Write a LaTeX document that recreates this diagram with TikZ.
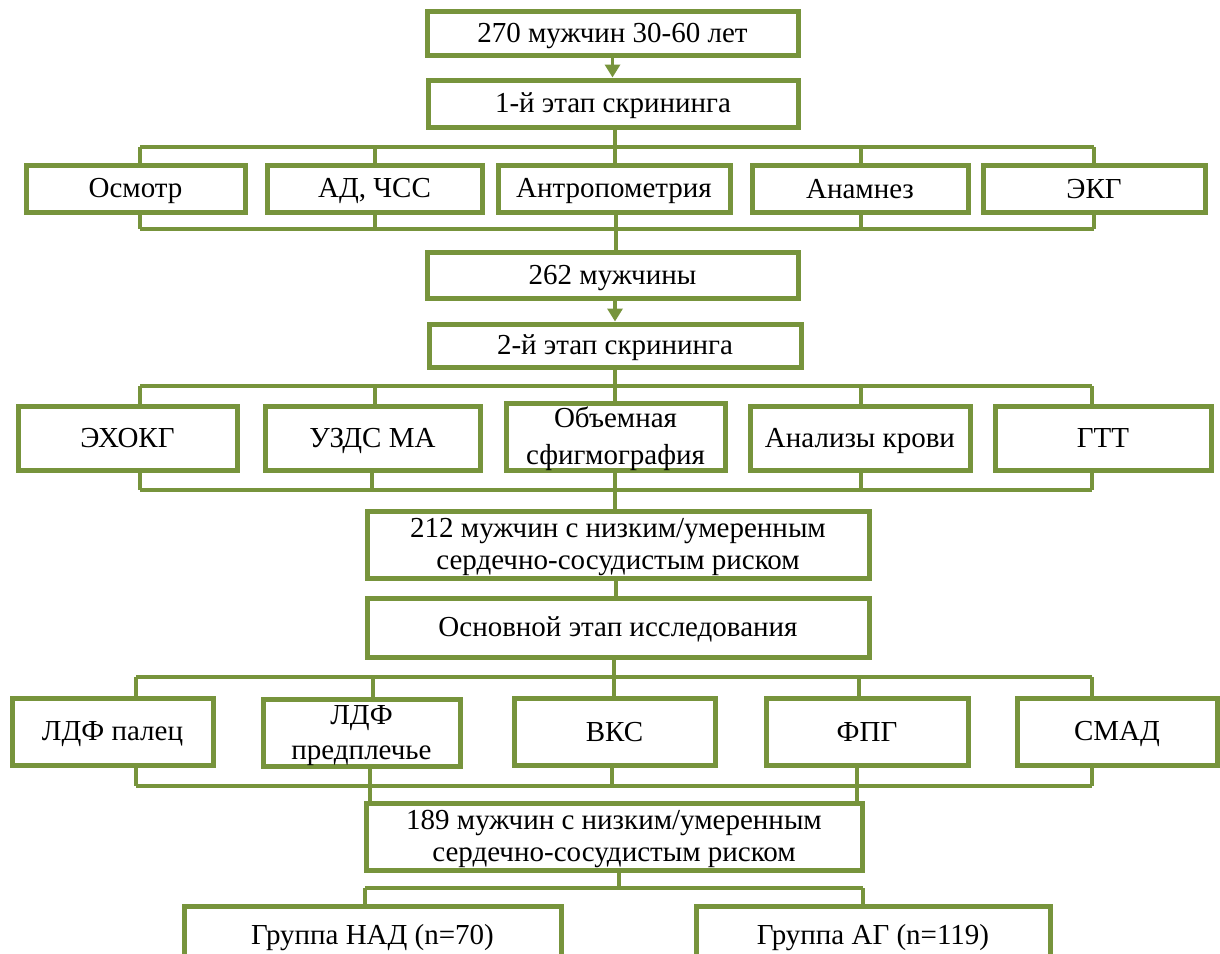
\documentclass[tikz,border=0pt]{standalone}
\usepackage{fontspec}
\setmainfont{Liberation Serif}
\usetikzlibrary{arrows.meta}
\definecolor{grn}{RGB}{119,148,60}
\newcommand\sst{\rule[-5.5pt]{0pt}{30pt}}
\begin{document}
\begin{tikzpicture}[x=1pt,y=-1pt,
  box/.style={draw=grn, line width=5pt, fill=white, inner sep=0pt, align=center,
    font=\fontsize{29}{32}\selectfont},
  conn/.style={draw=grn, line width=3.5pt},
  arr/.style={conn, -{Triangle[length=13pt,width=15pt]}}]
\useasboundingbox (0,0) rectangle (1220,953);

% main column
\node[box, minimum width=371pt, minimum height=44pt] (b1) at (612.5,33) {\sst 270 мужчин 30-60 лет};
\node[box, minimum width=370pt, minimum height=47pt] (b2) at (613,103.5) {\sst 1-й этап скрининга};

% row 1
\node[box, minimum width=219pt, minimum height=47pt] (r1a) at (135.5,188.5) {\sst Осмотр};
\node[box, minimum width=215pt, minimum height=47pt] (r1b) at (374.5,188.5) {\sst АД, ЧСС};
\node[box, minimum width=232pt, minimum height=47pt] (r1c) at (614,188.5) {\sst Антропометрия};
\node[box, minimum width=216pt, minimum height=47pt] (r1d) at (860,188.5) {\sst Анамнез};
\node[box, minimum width=222pt, minimum height=47pt] (r1e) at (1094,188.5) {\sst ЭКГ};

\node[box, minimum width=371pt, minimum height=46pt] (b3) at (612.5,275) {\sst 262 мужчины};
\node[box, minimum width=372pt, minimum height=43pt] (b4) at (615,345.5) {\sst 2-й этап скрининга};

% row 2
\node[box, minimum width=219pt, minimum height=64pt] (r2a) at (127.5,438) {\sst ЭХОКГ};
\node[box, minimum width=215pt, minimum height=64pt] (r2b) at (372.5,438) {\sst УЗДС МА};
\node[box, minimum width=219pt, minimum height=64pt, font=\fontsize{29}{37}\selectfont] (r2c) at (615.5,437) {\sst Объемная\\\sst сфигмография};
\node[box, minimum width=220pt, minimum height=64pt] (r2d) at (860,438) {\sst Анализы крови};
\node[box, minimum width=216pt, minimum height=64pt] (r2e) at (1103,438) {\sst ГТТ};

\node[box, minimum width=502pt, minimum height=67pt] (b5) at (618,544.5) {\sst 212 мужчин с низким/умеренным\\\sst сердечно-сосудистым риском};
\node[box, minimum width=502pt, minimum height=59pt] (b6) at (618,627.5) {\sst Основной этап исследования};

% row 3
\node[box, minimum width=201pt, minimum height=67pt] (r3a) at (112.5,731.5) {\sst ЛДФ палец};
\node[box, minimum width=197pt, minimum height=67pt, font=\fontsize{29}{35}\selectfont] (r3b) at (361.5,733) {\sst ЛДФ\\\sst предплечье};
\node[box, minimum width=201pt, minimum height=67pt] (r3c) at (614.5,731.5) {\sst ВКС};
\node[box, minimum width=202pt, minimum height=67pt] (r3d) at (867,731.5) {\sst ФПГ};
\node[box, minimum width=200pt, minimum height=67pt] (r3e) at (1117,731.5) {\sst СМАД};

\node[box, minimum width=496pt, minimum height=67pt] (b7) at (614,836.5) {\sst 189 мужчин с низким/умеренным\\\sst сердечно-сосудистым риском};

% row 4
\node[box, minimum width=377pt, minimum height=58pt] (r4a) at (372.5,935) {\sst Группа НАД (n=70)};
\node[box, minimum width=354pt, minimum height=58pt] (r4b) at (873,935) {\sst Группа АГ (n=119)};

% arrows
\draw[arr] (b1.south) -- (b1.south |- b2.north);
\draw[arr] (615,0 |- b3.south) -- (615,0 |- b4.north);

% stage 1 fan-out
\draw[conn] (140,147) -- (1094,147);
\draw[conn] (615,0 |- b2.south) -- (615,0 |- r1c.north);
\foreach \x/\n in {140/r1a, 375/r1b, 861/r1d, 1094/r1e}
  \draw[conn] (\x,147) -- (\x,0 |- \n.north);
% stage 1 fan-in
\draw[conn] (140,229) -- (1094,229);
\foreach \x/\n in {140/r1a, 375/r1b, 861/r1d, 1094/r1e}
  \draw[conn] (\x,0 |- \n.south) -- (\x,229);
\draw[conn] (616,0 |- r1c.south) -- (616,0 |- b3.north);

% stage 2 fan-out
\draw[conn] (140,386) -- (1092,386);
\draw[conn] (615,0 |- b4.south) -- (615,0 |- r2c.north);
\foreach \x/\n in {140/r2a, 375/r2b, 861/r2d, 1092/r2e}
  \draw[conn] (\x,386) -- (\x,0 |- \n.north);
% stage 2 fan-in
\draw[conn] (140,490) -- (1092,490);
\foreach \x/\n in {140/r2a, 372/r2b, 861/r2d, 1092/r2e}
  \draw[conn] (\x,0 |- \n.south) -- (\x,490);
\draw[conn] (615,0 |- r2c.south) -- (615,0 |- b5.north);

\draw[conn] (616,0 |- b5.south) -- (616,0 |- b6.north);

% main stage fan-out
\draw[conn] (136,677) -- (1092,677);
\draw[conn] (614,0 |- b6.south) -- (614,0 |- r3c.north);
\foreach \x/\n in {136/r3a, 373/r3b, 859/r3d, 1092/r3e}
  \draw[conn] (\x,677) -- (\x,0 |- \n.north);
% main stage fan-in
\draw[conn] (136,786) -- (1092,786);
\foreach \x/\n in {136/r3a, 612/r3c, 1092/r3e}
  \draw[conn] (\x,0 |- \n.south) -- (\x,786);
\draw[conn] (370,0 |- r3b.south) -- (370,0 |- b7.north);
\draw[conn] (857,0 |- r3d.south) -- (857,0 |- b7.north);

% groups
\draw[conn] (365,888) -- (863,888);
\draw[conn] (619,0 |- b7.south) -- (619,888);
\draw[conn] (365,888) -- (365,0 |- r4a.north);
\draw[conn] (863,888) -- (863,0 |- r4b.north);
\end{tikzpicture}
\end{document}
